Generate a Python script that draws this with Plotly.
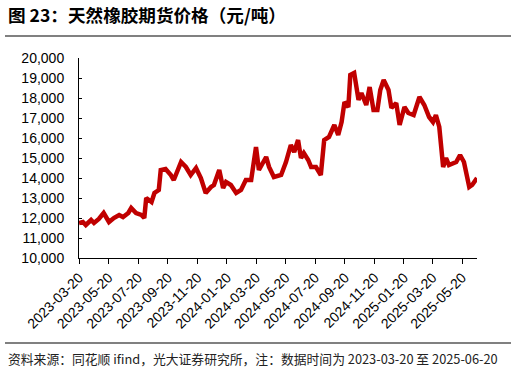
import plotly.graph_objects as go

dates = [
    "2023-03-20", "2023-03-28", "2023-04-03", "2023-04-14", "2023-04-20", "2023-04-30",
    "2023-05-10", "2023-05-21", "2023-05-31", "2023-06-11", "2023-06-19", "2023-06-30",
    "2023-07-06", "2023-07-16", "2023-07-27", "2023-08-02", "2023-08-06", "2023-08-17",
    "2023-08-23", "2023-09-01", "2023-09-05", "2023-09-15", "2023-09-26", "2023-10-02",
    "2023-10-17", "2023-10-27", "2023-11-06", "2023-11-17", "2023-11-27", "2023-12-07",
    "2023-12-18", "2023-12-24", "2024-01-04", "2024-01-12", "2024-01-18", "2024-01-28",
    "2024-02-08", "2024-02-18", "2024-02-28", "2024-03-10", "2024-03-20", "2024-03-26",
    "2024-04-10", "2024-04-16", "2024-04-26", "2024-05-11", "2024-05-21", "2024-05-31",
    "2024-06-07", "2024-06-15", "2024-06-21", "2024-06-27", "2024-07-06", "2024-07-12",
    "2024-07-22", "2024-08-01", "2024-08-08", "2024-08-18", "2024-08-29", "2024-09-06",
    "2024-09-13", "2024-09-19", "2024-09-27", "2024-10-01", "2024-10-09", "2024-10-18",
    "2024-10-24", "2024-11-03", "2024-11-10", "2024-11-18", "2024-11-26", "2024-12-02",
    "2024-12-09", "2024-12-19", "2024-12-25", "2025-01-04", "2025-01-11", "2025-01-21",
    "2025-01-29", "2025-02-09", "2025-02-21", "2025-03-03", "2025-03-13", "2025-03-21",
    "2025-03-27", "2025-04-03", "2025-04-11", "2025-04-17", "2025-04-23", "2025-05-08",
    "2025-05-16", "2025-05-24", "2025-06-04", "2025-06-10", "2025-06-20",
]
prices = [
    11750, 11800, 11650, 11900, 11750, 11950,
    12250, 11800, 12000, 12150, 12050, 12250,
    12500, 12250, 12150, 12000, 13000, 12800,
    13250, 13400, 14400, 14450, 14150, 13900,
    14800, 14550, 14150, 14500, 14000, 13250,
    13550, 13650, 14400, 13500, 13800, 13650,
    13250, 13400, 13900, 13900, 15550, 14400,
    15050, 14550, 14050, 14150, 14800, 15650,
    15300, 15900, 15000, 15250, 14900, 14550,
    14550, 14150, 15900, 16050, 16650, 16150,
    16800, 17800, 17550, 19150, 19250, 17900,
    18250, 17650, 18550, 17400, 17400, 18400,
    18900, 18400, 17500, 17750, 16650, 17550,
    17250, 17150, 18050, 17650, 17050, 16800,
    17150, 16550, 14550, 15000, 14650, 14800,
    15150, 14800, 13550, 13650, 14000,
]

x_ticks = [
    "2023-03-20", "2023-05-20", "2023-07-20", "2023-09-20", "2023-11-20", "2024-01-20",
    "2024-03-20", "2024-05-20", "2024-07-20", "2024-09-20", "2024-11-20", "2025-01-20",
    "2025-03-20", "2025-05-20",
]
y_ticks = list(range(10000, 20001, 1000))

title_text = "图 23：天然橡胶期货价格（元/吨）"
source_text = "资料来源：同花顺 ifind，光大证券研究所，注：数据时间为 2023-03-20 至 2025-06-20"

FONT = "Liberation Sans, Arial, Noto Sans CJK SC, sans-serif"
CJK = "Noto Sans CJK SC, sans-serif"

fig = go.Figure()
fig.add_trace(go.Scatter(
    x=dates, y=prices, mode="lines",
    line=dict(color="#C00000", width=4.5),
    showlegend=False, hoverinfo="skip",
))

fig.update_layout(
    width=516, height=375,
    margin=dict(l=79, r=39, t=58, b=117),
    paper_bgcolor="white", plot_bgcolor="white",
    font=dict(family=FONT, size=14, color="#000000"),
    xaxis=dict(
        type="date",
        range=["2023-03-20", "2025-06-20"],
        tickmode="array", tickvals=x_ticks, ticktext=x_ticks,
        tickangle=-45,
        showline=True, linecolor="#000000", linewidth=1,
        ticks="outside", ticklen=5, tickcolor="#000000",
        showgrid=False, zeroline=False,
        tickfont=dict(size=14, family=FONT),
    ),
    yaxis=dict(
        range=[10000, 20000],
        tickmode="array", tickvals=y_ticks,
        tickformat=",d",
        showline=True, linecolor="#000000", linewidth=1,
        ticks="inside", ticklen=3, tickcolor="#000000",
        ticklabelstandoff=11,
        showgrid=False, zeroline=False,
        tickfont=dict(size=14, family=FONT),
    ),
    annotations=[
        dict(text="<b>" + title_text + "</b>", xref="paper", yref="paper",
             x=-73 / 398, y=(258 - 15) / 200, xanchor="left", yanchor="middle",
             showarrow=False, font=dict(family=CJK, size=17.6, color="#000000")),
        dict(text=source_text, xref="paper", yref="paper",
             x=-73 / 398, y=(258 - 358) / 200, xanchor="left", yanchor="middle",
             showarrow=False, font=dict(family=CJK, size=12.8, color="#222222")),
    ],
    shapes=[
        dict(type="line", xref="paper", yref="paper",
             x0=-74 / 398, x1=432 / 398, y0=(258 - 36) / 200, y1=(258 - 36) / 200,
             line=dict(color="#808080", width=2)),
        dict(type="line", xref="paper", yref="paper",
             x0=-74 / 398, x1=432 / 398, y0=(258 - 343) / 200, y1=(258 - 343) / 200,
             line=dict(color="#808080", width=2)),
    ],
)

fig.write_html("out.html", config={"displayModeBar": False},
               post_script="document.body.style.margin='0';")
